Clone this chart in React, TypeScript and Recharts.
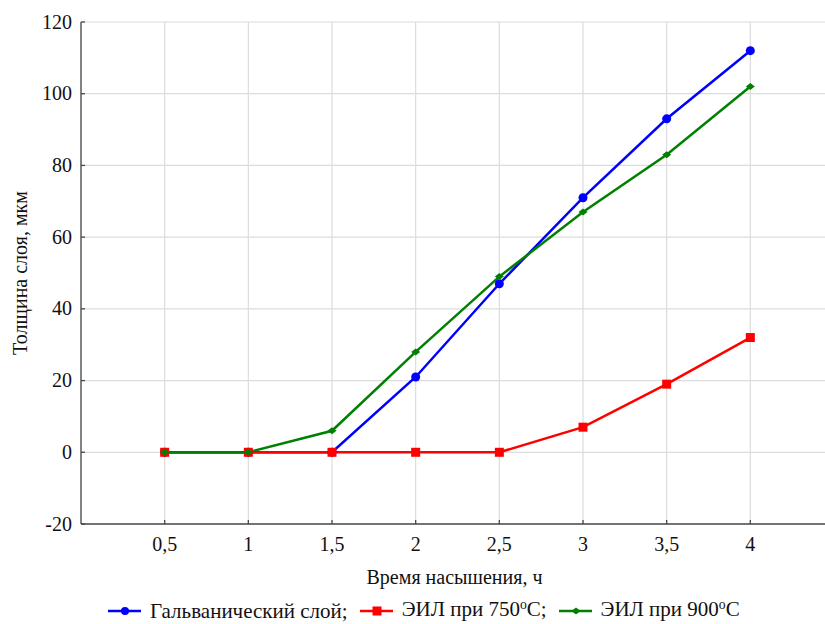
import React from "react";
import { LineChart, Line, XAxis, YAxis, CartesianGrid } from "recharts";

const times = [0.5, 1, 1.5, 2, 2.5, 3, 3.5, 4];
const galvanic = [0, 0, 0, 21, 47, 71, 93, 112];
const eil750 = [0, 0, 0, 0, 0, 7, 19, 32];
const eil900 = [0, 0, 6, 28, 49, 67, 83, 102];
const yTicks = [-20, 0, 20, 40, 60, 80, 100, 120];

const data = times.map((t, i) => ({
  t,
  galvanic: galvanic[i],
  eil750: eil750[i],
  eil900: eil900[i],
}));

const FONT = "Liberation Serif, Times New Roman, serif";
const FS = 20;
const AXIS = "#4a4a4a";
const fmt = (v: number) => String(v).replace(".", ",");

const BottomTick = (props: any) => {
  const { x, y, payload } = props;
  return (
    <g>
      <line x1={x} x2={x} y1={y - 14} y2={y - 18} stroke={AXIS} strokeWidth={1.3} />
      <text x={x} y={y} dy="0.66em" textAnchor="middle" fill="#111" style={{ fontSize: FS, fontFamily: FONT }}>
        {fmt(payload.value)}
      </text>
    </g>
  );
};

const TopTick = (props: any) => {
  const { x, y } = props;
  return <line x1={x} x2={x} y1={y} y2={y + 4} stroke={AXIS} strokeWidth={1.3} />;
};

const LeftTick = (props: any) => {
  const { x, y, payload } = props;
  return (
    <g>
      <line x1={x + 9} x2={x + 13} y1={y} y2={y} stroke={AXIS} strokeWidth={1.3} />
      <text x={x} y={y} dy="0.33em" textAnchor="end" fill="#111" style={{ fontSize: FS, fontFamily: FONT }}>
        {payload.value}
      </text>
    </g>
  );
};

const SquareDot = (props: any) => {
  const { cx, cy, index } = props;
  return <rect key={index} x={cx - 4.5} y={cy - 4.5} width={9} height={9} fill="#ff0000" />;
};

const DiamondDot = (props: any) => {
  const { cx, cy, index } = props;
  return (
    <path
      key={index}
      d={`M${cx - 4.5},${cy} L${cx},${cy - 3.5} L${cx + 4.5},${cy} L${cx},${cy + 3.5} Z`}
      fill="#008000"
    />
  );
};

const LegendLine = ({ color, marker }: { color: string; marker: string }) => (
  <svg width={33} height={12} style={{ display: "block" }}>
    <line x1={0} x2={33} y1={6} y2={6} stroke={color} strokeWidth={2.5} />
    {marker === "circle" && <circle cx={17} cy={6} r={4} fill={color} />}
    {marker === "square" && <rect x={12.5} y={1.5} width={9} height={9} fill={color} />}
    {marker === "diamond" && <path d="M12.5,6 L17,2.5 L21.5,6 L17,9.5 Z" fill={color} />}
  </svg>
);

const sup: React.CSSProperties = { fontSize: "0.65em", position: "relative", top: "-0.55em" };

const legendItems = [
  { color: "#0000ff", marker: "circle", label: <>Гальванический слой;</> },
  { color: "#ff0000", marker: "square", label: <>ЭИЛ при 750<span style={sup}>o</span>C;</> },
  { color: "#008000", marker: "diamond", label: <>ЭИЛ при 900<span style={sup}>o</span>C</> },
];

const App = () => {
  return (
    <div
      style={{
        position: "absolute",
        left: 0,
        top: 0,
        width: 825,
        height: 624,
        overflow: "hidden",
        background: "#fff",
      }}
    >
      <LineChart width={840} height={624} data={data} margin={{ top: 22, right: 6, left: 0, bottom: 0 }}>
        <CartesianGrid stroke="#dcdcdc" strokeWidth={1.2} />
        <XAxis
          dataKey="t"
          type="number"
          domain={[0, 4.5]}
          ticks={times}
          height={100}
          tickSize={0}
          tickMargin={14}
          tickLine={false}
          tick={<BottomTick />}
          axisLine={{ stroke: AXIS, strokeWidth: 1.3 }}
          label={{
            content: (p: any) => {
              const vb = p.viewBox;
              return (
                <text x={vb.x + vb.width / 2 - 3} y={vb.y + 60} textAnchor="middle" fill="#111" style={{ fontSize: FS, fontFamily: FONT }}>
                  Время насышения, ч
                </text>
              );
            },
          }}
        />
        <XAxis
          xAxisId="top"
          orientation="top"
          dataKey="t"
          type="number"
          domain={[0, 4.5]}
          ticks={times}
          height={0}
          tickSize={0}
          tickMargin={0}
          tickLine={false}
          tick={<TopTick />}
          axisLine={{ stroke: AXIS, strokeWidth: 1.3 }}
        />
        <YAxis
          domain={[-20, 120]}
          ticks={yTicks}
          width={81}
          tickSize={0}
          tickMargin={9}
          tickLine={false}
          tick={<LeftTick />}
          axisLine={{ stroke: AXIS, strokeWidth: 1.3 }}
          label={{
            content: (p: any) => {
              const vb = p.viewBox;
              const cy = vb.y + vb.height / 2;
              return (
                <text x={27} y={cy} transform={`rotate(-90, 27, ${cy})`} textAnchor="middle" fill="#111" style={{ fontSize: FS, fontFamily: FONT }}>
                  Толщина слоя, мкм
                </text>
              );
            },
          }}
        />
        <Line
          dataKey="galvanic"
          stroke="#0000ff"
          strokeWidth={2.5}
          dot={{ r: 4.5, fill: "#0000ff", stroke: "none" }}
          isAnimationActive={false}
        />
        <Line
          dataKey="eil750"
          stroke="#ff0000"
          strokeWidth={2.5}
          dot={<SquareDot />}
          isAnimationActive={false}
        />
        <Line
          dataKey="eil900"
          stroke="#008000"
          strokeWidth={2.5}
          dot={<DiamondDot />}
          isAnimationActive={false}
        />
      </LineChart>
      <div
        style={{
          position: "absolute",
          left: 108,
          top: 597,
          display: "flex",
          alignItems: "center",
          fontFamily: FONT,
          fontSize: 21,
          color: "#111",
          whiteSpace: "nowrap",
          lineHeight: "24px",
        }}
      >
        {legendItems.map((item, i) => (
          <div key={i} style={{ display: "flex", alignItems: "center", marginRight: 12 }}>
            <LegendLine color={item.color} marker={item.marker} />
            <span style={{ marginLeft: 9 }}>{item.label}</span>
          </div>
        ))}
      </div>
    </div>
  );
};

export default App;
